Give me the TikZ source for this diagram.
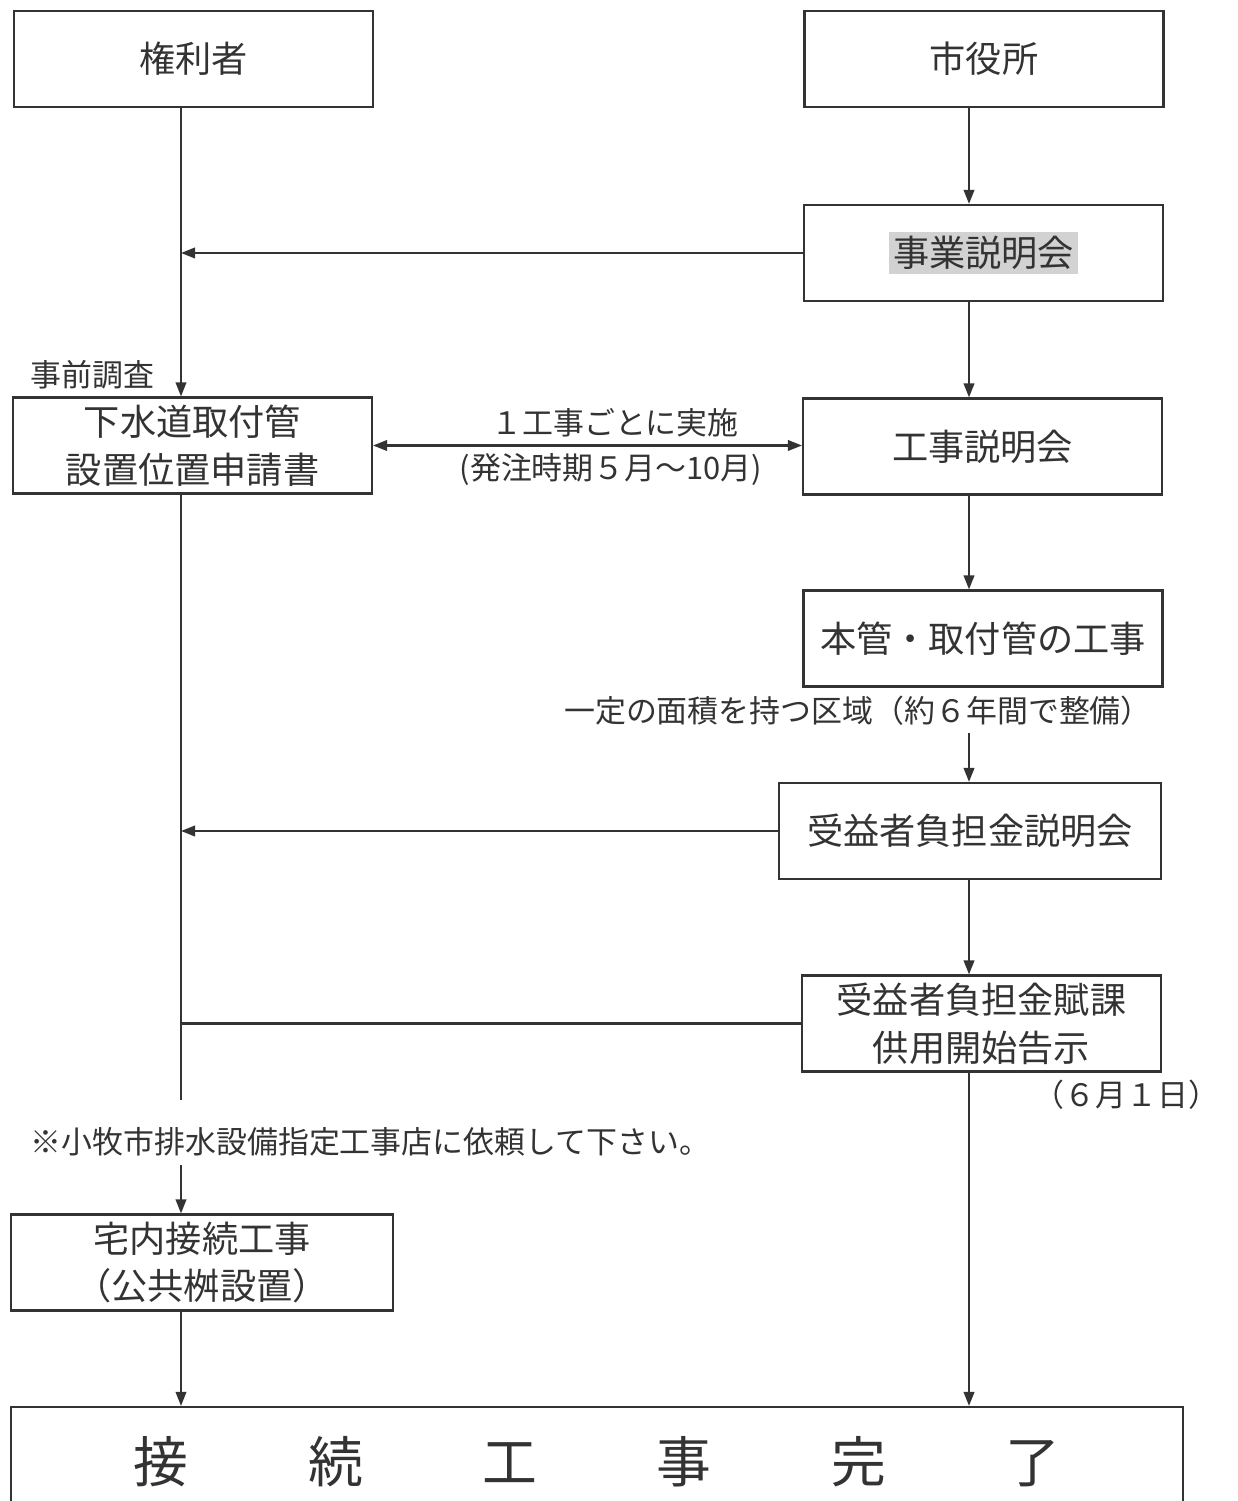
\documentclass[tikz,border=0pt]{standalone}
\usepackage{fontspec}
\setmainfont{Noto Sans CJK JP}
\usetikzlibrary{arrows.meta,positioning}
\definecolor{linegray}{HTML}{333333}
\definecolor{hlgray}{HTML}{D2D2D2}

\begin{document}
\begin{tikzpicture}[x=0.1mm,y=-0.1mm,>={Triangle[length=4pt,width=3pt]},
  box/.style={draw=linegray,line width=0.6pt,minimum width=35.9mm,minimum height=9.6mm,
    inner sep=0pt,align=center,text=linegray,font=\fontsize{10.3}{13.6}\selectfont},
  note/.style={inner sep=0pt,text=linegray,font=\fontsize{8.8}{11}\selectfont},
  flow/.style={draw=linegray,line width=0.6pt}]
  \useasboundingbox (0,0) rectangle (1237,1501);
  \coordinate (trunk) at (181,0);
  \coordinate (spine) at (969,0);
  % left column
  \node[box] (owner) at (193.5,59) {権利者};
  \node[box] (apply) at (192.5,445.5) {下水道取付管\\設置位置申請書};
  \node[box,minimum width=38.2mm] (house) at (202,1262.5) {宅内接続工事\\（公共桝設置）};
  % right column
  \node[box] (city) at (984,59) {市役所};
  \node[box] (briefing) at (983.5,253) {\setlength\fboxsep{1.2pt}\colorbox{hlgray}{事業説明会}};
  \node[box] (works) at (982.5,446.5) {工事説明会};
  \node[box] (mainpipe) at (983,638.5) {本管・取付管の工事};
  \node[box,minimum width=38.2mm] (benefit) at (970,831) {受益者負担金説明会};
  \node[box] (levy) at (981.5,1023.5) {受益者負担金賦課\\供用開始告示};
  % bottom
  \node[box,minimum width=117.2mm,minimum height=11mm,font=\fontsize{15.6}{18}\selectfont]
    (done) at (597,1462) {接\hskip34pt 続\hskip34pt 工\hskip34pt 事\hskip34pt 完\hskip34pt 了};
  % labels
  \node[note,anchor=west] (survey) at (30,375) {事前調査};
  \node[note] (each) at (615,423) {１工事ごとに実施};
  \node[note] (period) at (611,470) {(発注時期５月～10月)};
  \node[note] (area) at (858,711) {一定の面積を持つ区域（約６年間で整備）};
  \node[note,anchor=east] (date) at (1220,1095) {（６月１日）};
  \node[note,anchor=west] (request) at (30,1142) {※小牧市排水設備指定工事店に依頼して下さい。};
  \coordinate (trunkend) at (181,1100);
  \coordinate (trunkrestart) at (181,1165);
  % connectors
  \draw[flow,->] (owner.south -| trunk) -- (apply.north -| trunk);
  \draw[flow,->] (briefing.west) -- (briefing.west -| trunk);
  \draw[flow,<->] (apply.east) -- (apply.east -| works.west);
  \draw[flow,->] (city.south -| spine) -- (briefing.north -| spine);
  \draw[flow,->] (briefing.south -| spine) -- (works.north -| spine);
  \draw[flow,->] (works.south -| spine) -- (mainpipe.north -| spine);
  \draw[flow,->] ([yshift=-2pt]area.south -| spine) -- (benefit.north -| spine);
  \draw[flow,->] (benefit.west) -- (benefit.west -| trunk);
  \draw[flow,->] (benefit.south -| spine) -- (levy.north -| spine);
  \draw[flow] (levy.west) -- (levy.west -| trunk);
  \draw[flow] (apply.south -| trunk) -- (trunkend);
  \draw[flow,->] (trunkrestart) -- (house.north -| trunk);
  \draw[flow,->] (house.south -| trunk) -- (done.north -| trunk);
  \draw[flow,->] (levy.south -| spine) -- (done.north -| spine);
\end{tikzpicture}
\end{document}
